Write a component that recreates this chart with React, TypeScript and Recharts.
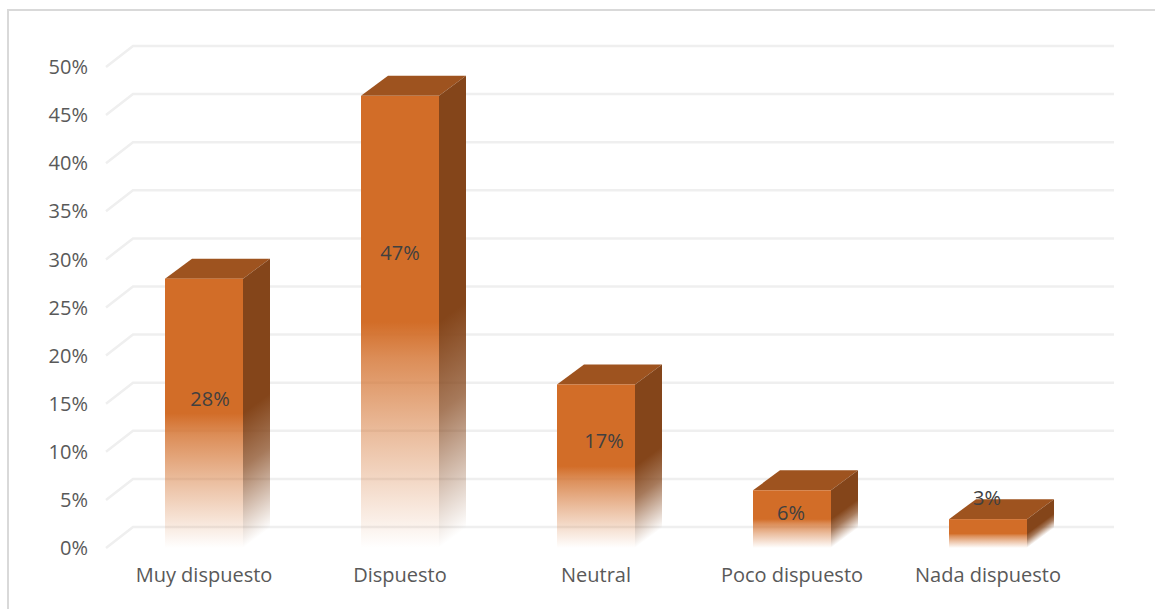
import React from "react";
import { BarChart, Bar, XAxis, YAxis, CartesianGrid, LabelList } from "recharts";

const categories = ["Muy dispuesto", "Dispuesto", "Neutral", "Poco dispuesto", "Nada dispuesto"];
const percentages = [28, 47, 17, 6, 3];
const axisTicks = [0, 5, 10, 15, 20, 25, 30, 35, 40, 45, 50];

const rows = categories.map((name, i) => ({ name, value: percentages[i] }));

const FONT = "'Open Sans', 'Noto Sans', sans-serif";
const FRONT = "#D26D28";
const TOP = "#9E531F";
const SIDE = "#84451A";
const GRID = "#EFEFEF";
const DEPTH_X = 27;
const DEPTH_Y = 20;

// Hand-placed data labels: shift from the bar's top centre
const labelShift = [
  { dx: 6, dy: 120 },
  { dx: 0, dy: 157 },
  { dx: 8, dy: 56 },
  { dx: -1, dy: 22 },
  { dx: -1, dy: -22 },
];

// One floor-to-wall grid line: a slanted run along the floor, then the back wall
function GridLine(props: any) {
  const { x1, x2, y1 } = props;
  return (
    <path
      d={`M${x1},${y1} L${x1 + DEPTH_X},${y1 - DEPTH_Y - 1} L${x2 + DEPTH_X + 1},${y1 - DEPTH_Y - 1}`}
      fill="none"
      stroke={GRID}
      strokeWidth={2.5}
    />
  );
}

// A column drawn as a cuboid, fading to white towards the floor
function Cuboid(props: any) {
  const { x, y, width, height, index } = props;
  const right = x + width;
  const bottom = y + height;
  const len = Math.hypot(DEPTH_X, DEPTH_Y);
  const nx = DEPTH_Y / len;
  const ny = DEPTH_X / len;
  const reach = (height * DEPTH_X) / len;
  const sideId = `side-fade-${index}`;
  return (
    <g>
      <defs>
        <linearGradient
          id={sideId}
          gradientUnits="userSpaceOnUse"
          x1={right}
          y1={y}
          x2={right + nx * reach}
          y2={y + ny * reach}
        >
          <stop offset="0%" stopColor={SIDE} stopOpacity={1} />
          <stop offset="50%" stopColor={SIDE} stopOpacity={1} />
          <stop offset="70%" stopColor={SIDE} stopOpacity={0.72} />
          <stop offset="100%" stopColor={SIDE} stopOpacity={0} />
        </linearGradient>
      </defs>
      <polygon
        points={`${x},${y} ${x + DEPTH_X},${y - DEPTH_Y} ${right + DEPTH_X},${y - DEPTH_Y} ${right},${y}`}
        fill={TOP}
      />
      <polygon
        points={`${right},${y} ${right + DEPTH_X},${y - DEPTH_Y} ${right + DEPTH_X},${bottom - DEPTH_Y} ${right},${bottom}`}
        fill={`url(#${sideId})`}
      />
      <rect x={x} y={y} width={width} height={height} fill="url(#front-fade)" />
    </g>
  );
}

function ValueLabel(props: any) {
  const { x, y, width, index, value } = props;
  const shift = labelShift[index];
  return (
    <text
      x={x + width / 2 + shift.dx}
      y={y + shift.dy}
      textAnchor="middle"
      dominantBaseline="central"
      fontFamily={FONT}
      fontSize={20}
      fill="#404040"
    >
      {`${value}%`}
    </text>
  );
}

export default function App() {
  return (
    <div
      style={{
        position: "absolute",
        left: 0,
        top: 0,
        width: 1155,
        height: 609,
        background: "#fff",
        overflow: "hidden",
      }}
    >
      <div
        style={{
          position: "absolute",
          left: 7,
          top: 9,
          width: 1160,
          height: 620,
          border: "2px solid #D9D9D9",
          boxSizing: "border-box",
        }}
      />
      <div style={{ position: "absolute", left: 0, top: 0 }}>
        <BarChart
          width={1155}
          height={609}
          data={rows}
          margin={{ top: 67, right: 69, bottom: 0, left: 46 }}
          barSize={78}
        >
          <defs>
            <linearGradient id="front-fade" x1="0" y1="0" x2="0" y2="1">
              <stop offset="0%" stopColor={FRONT} stopOpacity={1} />
              <stop offset="50%" stopColor={FRONT} stopOpacity={1} />
              <stop offset="58%" stopColor={FRONT} stopOpacity={0.78} />
              <stop offset="75%" stopColor={FRONT} stopOpacity={0.45} />
              <stop offset="100%" stopColor={FRONT} stopOpacity={0} />
            </linearGradient>
          </defs>
          <CartesianGrid vertical={false} horizontal={(p: any) => <GridLine key={p.key} {...p} />} />
          <XAxis
            dataKey="name"
            axisLine={false}
            tickLine={false}
            height={61}
            interval={0}
            tickMargin={14}
            tick={{ fontFamily: FONT, fontSize: 20, fill: "#595959" }}
          />
          <YAxis
            width={60}
            domain={[0, 50]}
            ticks={axisTicks}
            axisLine={false}
            tickLine={false}
            tickMargin={12}
            tickFormatter={(v: number) => `${v}%`}
            tick={{ fontFamily: FONT, fontSize: 20, fill: "#595959" }}
          />
          <Bar dataKey="value" isAnimationActive={false} shape={<Cuboid />}>
            <LabelList dataKey="value" content={<ValueLabel />} />
          </Bar>
        </BarChart>
      </div>
    </div>
  );
}
